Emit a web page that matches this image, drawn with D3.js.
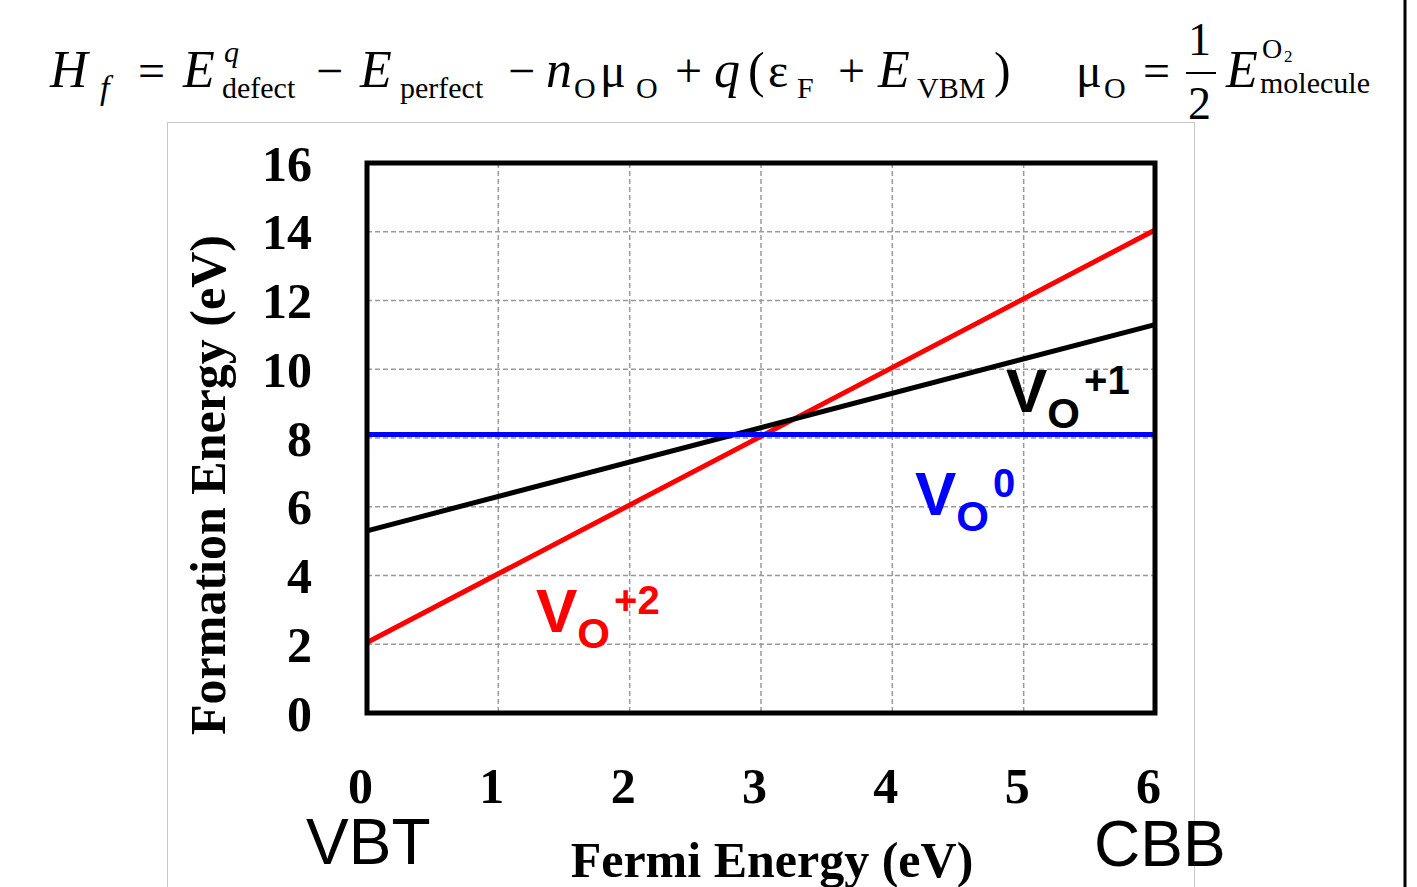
<!DOCTYPE html>
<html>
<head>
<meta charset="utf-8">
<script src="https://cdn.jsdelivr.net/npm/d3@7"></script>
<style>
  body { margin: 0; background: #fff; }
  svg { display: block; }
</style>
</head>
<body>
<div id="chart"></div>
<script>
// Fermi energy (eV) and formation energy (eV) of each charge state
const fermi = [0, 6];
const vo0 = [8.1, 8.1];
const vo1 = [5.3, 11.3];
const vo2 = [2.05, 14.05];
const xTicks = [0, 1, 2, 3, 4, 5, 6];
const yTicks = [0, 2, 4, 6, 8, 10, 12, 14, 16];

const W = 1417, H = 887;
const margin = { left: 367, right: 262, top: 163, bottom: 174 };
const width = W - margin.left - margin.right;
const height = H - margin.top - margin.bottom;

const svg = d3.select('#chart').append('svg')
  .attr('width', W).attr('height', H);

// outer light frame and right border line
svg.append('rect')
  .attr('x', 167.5).attr('y', 122.5).attr('width', 1027).attr('height', 800)
  .attr('fill', 'none').attr('stroke', '#c8c8c8').attr('stroke-width', 1);
svg.append('line')
  .attr('x1', 1405).attr('x2', 1405).attr('y1', 0).attr('y2', H)
  .attr('stroke', '#000').attr('stroke-width', 3);

// equation header
const serif = 'Liberation Serif, Times New Roman, serif';
const eq = svg.append('g').style('font-family', serif).attr('fill', '#000');
function t(x, y, s, size, italic) {
  eq.append('text').attr('x', x).attr('y', y).text(s)
    .style('font-size', size + 'px')
    .style('font-style', italic ? 'italic' : 'normal');
}
t(50, 87, 'H', 52, true);
t(100, 99, 'f', 34, true);
t(138, 87, '=', 48, false);
t(183, 87, 'E', 52, true);
t(224, 62, 'q', 30, true);
t(222, 98, 'defect', 30, false);
t(316, 87, '\u2212', 48, false);
t(360, 87, 'E', 52, true);
t(400, 98, 'perfect', 30, false);
t(508, 87, '\u2212', 48, false);
t(546, 87, 'n', 52, true);
t(574, 98, 'O', 30, false);
t(600, 87, '\u03bc', 48, false);
t(636, 98, 'O', 30, false);
t(675, 87, '+', 48, false);
t(714, 87, 'q', 52, true);
t(748, 87, '(', 50, false);
t(768, 87, '\u03b5', 48, false);
t(797, 98, 'F', 30, false);
t(838, 87, '+', 48, false);
t(878, 87, 'E', 52, true);
t(917, 98, 'VBM', 30, false);
t(994, 87, ')', 50, false);
t(1076, 87, '\u03bc', 48, false);
t(1104, 98, 'O', 30, false);
t(1143, 87, '=', 48, false);
t(1188, 55, '1', 46, false);
eq.append('line').attr('x1', 1186).attr('x2', 1216).attr('y1', 73).attr('y2', 73)
  .attr('stroke', '#000').attr('stroke-width', 2);
t(1188, 119, '2', 46, false);
t(1226, 87, 'E', 52, true);
t(1262, 58, 'O', 28, false);
t(1284, 62, '2', 17, false);
t(1260, 93, 'molecule', 30, false);

const g = svg.append('g')
  .attr('transform', `translate(${margin.left},${margin.top})`);

const x = d3.scaleLinear().domain([0, 6]).range([0, width]);
const y = d3.scaleLinear().domain([0, 16]).range([height, 0]);

// grid
g.append('g').selectAll('line').data(yTicks.slice(1, -1)).join('line')
  .attr('x1', 0).attr('x2', width)
  .attr('y1', d => y(d)).attr('y2', d => y(d))
  .attr('stroke', '#999').attr('stroke-width', 1.5).attr('stroke-dasharray', '5,3');
g.append('g').selectAll('line').data(xTicks.slice(1, -1)).join('line')
  .attr('y1', 0).attr('y2', height)
  .attr('x1', d => x(d)).attr('x2', d => x(d))
  .attr('stroke', '#999').attr('stroke-width', 1.5).attr('stroke-dasharray', '5,3');

// axes (labels only)
const fmt = d3.format('d');
const yAxis = g.append('g')
  .call(d3.axisLeft(y).tickValues(yTicks).tickFormat(fmt).tickSize(0).tickPadding(55));
const xAxis = g.append('g').attr('transform', `translate(0,${height})`)
  .call(d3.axisBottom(x).tickValues(xTicks).tickFormat(fmt).tickSize(0).tickPadding(54));
[yAxis, xAxis].forEach(a => {
  a.select('.domain').remove();
  a.selectAll('text')
    .style('font-family', serif).style('font-weight', 'bold')
    .style('font-size', '50px').attr('fill', '#000');
});
xAxis.selectAll('text').attr('dx', -7);
yAxis.selectAll('text').attr('dy', '0.34em');

// lines
const series = [
  { vals: vo2, color: '#ff0000' },
  { vals: vo1, color: '#000000' },
  { vals: vo0, color: '#0000ff' }
];
const line = d3.line().x(d => x(d[0])).y(d => y(d[1]));
series.forEach(s => {
  g.append('path')
    .datum(fermi.map((f, i) => [f, s.vals[i]]))
    .attr('d', line)
    .attr('fill', 'none').attr('stroke', s.color).attr('stroke-width', 5);
});

// plot frame
g.append('rect').attr('x', 0).attr('y', 0).attr('width', width).attr('height', height)
  .attr('fill', 'none').attr('stroke', '#000').attr('stroke-width', 5);

// series labels
const sans = 'Liberation Sans, Arial, sans-serif';
function vlabel(px, py, sup, color) {
  const lt = svg.append('text').attr('x', px).attr('y', py)
    .attr('fill', color).style('font-family', sans).style('font-weight', 'bold');
  lt.append('tspan').text('V').style('font-size', '62px');
  lt.append('tspan').text('O').attr('dy', 16).style('font-size', '42px');
  lt.append('tspan').text(sup).attr('dy', -34).attr('dx', 4).style('font-size', '40px');
}
vlabel(1006, 412, '+1', '#000');
vlabel(915, 515, '0', '#0000ff');
vlabel(536, 632, '+2', '#ff0000');

// axis titles
svg.append('text')
  .attr('transform', 'translate(225,485) rotate(-90)')
  .attr('text-anchor', 'middle')
  .style('font-family', serif).style('font-weight', 'bold').style('font-size', '50px')
  .text('Formation Energy (eV)');
svg.append('text')
  .attr('x', 772).attr('y', 877).attr('text-anchor', 'middle')
  .style('font-family', serif).style('font-weight', 'bold').style('font-size', '50px')
  .text('Fermi Energy (eV)');

svg.append('text').attr('x', 306).attr('y', 864)
  .style('font-family', sans).style('font-size', '64px').text('VBT');
svg.append('text').attr('x', 1094).attr('y', 866)
  .style('font-family', sans).style('font-size', '64px').text('CBB');
</script>
</body>
</html>
